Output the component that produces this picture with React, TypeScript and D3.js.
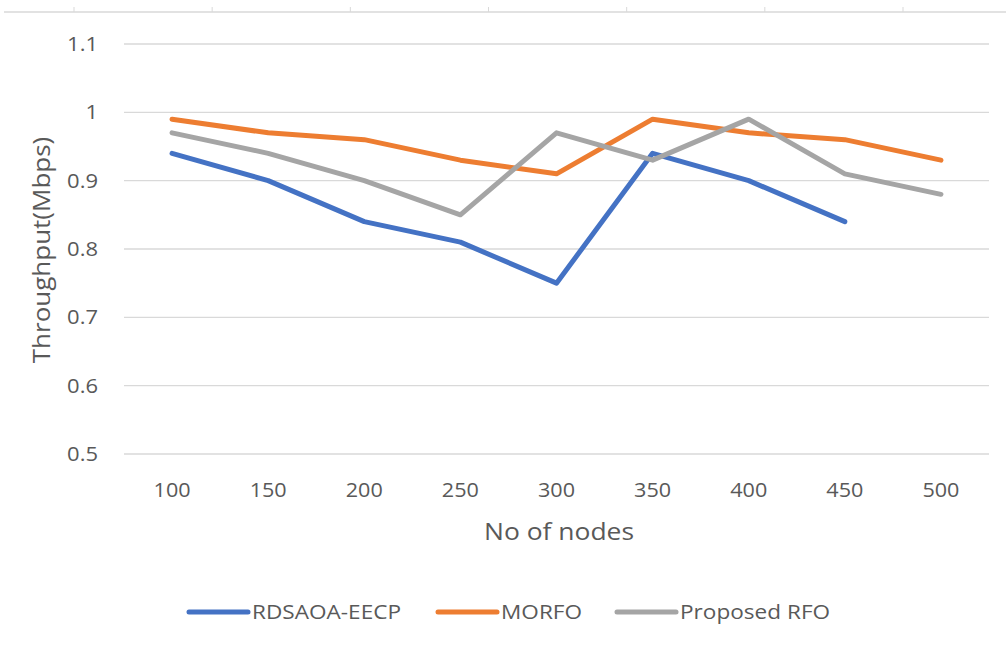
import React from "react";
import * as d3 from "d3";

const categories = ["100", "150", "200", "250", "300", "350", "400", "450", "500"];
const rdsaoa = [0.94, 0.9, 0.84, 0.81, 0.75, 0.94, 0.9, 0.84, null];
const morfo = [0.99, 0.97, 0.96, 0.93, 0.91, 0.99, 0.97, 0.96, 0.93];
const proposed = [0.97, 0.94, 0.9, 0.85, 0.97, 0.93, 0.99, 0.91, 0.88];
const yTicks = [0.5, 0.6, 0.7, 0.8, 0.9, 1.0, 1.1];
const seriesNames = ["RDSAOA-EECP", "MORFO", "Proposed RFO"];
const topTicks = [0, 1, 2, 3, 4, 5, 6];

const W = 1006;
const H = 648;
const FONT = "'Open Sans', 'Noto Sans', sans-serif";
const colors = ["#4472C4", "#ED7D31", "#A5A5A5"];
const TXT = "#595959";

function SText(props: {
  x: number;
  y: number;
  sx: number;
  size: number;
  anchor?: string;
  dy?: string;
  rotate?: number;
  children: React.ReactNode;
}) {
  const { x, y, sx, size, anchor, dy, rotate, children } = props;
  return (
    <g transform={`translate(${x},${y}) rotate(${rotate || 0}) scale(${sx},1)`}>
      <text x={0} y={0} dy={dy} textAnchor={anchor || "start"} fontSize={size} fill={TXT}>
        {children}
      </text>
    </g>
  );
}

export default function App() {
  const x = d3.scaleBand<string>().domain(categories).range([124, 989]);
  const y = d3.scaleLinear().domain([0.5, 1.1]).range([454, 44]);
  const cx = (c: string) => (x(c) as number) + x.bandwidth() / 2;
  const line = d3
    .line<number | null>()
    .defined((d) => d !== null)
    .x((_, i) => cx(categories[i]))
    .y((d) => y(d as number));
  const series = [rdsaoa, morfo, proposed];
  const topX = d3.scaleLinear().domain([0, 6]).range([74, 903]);
  const legendX = [189, 438, 617];

  return (
    <svg
      width={W}
      height={H}
      style={{ position: "absolute", left: 0, top: 0, display: "block", background: "#fff" }}
      fontFamily={FONT}
    >
      <rect x={0} y={0} width={W} height={H} fill="#fff" />
      <line x1={4} x2={W} y1={12} y2={12} stroke="#d9d9d9" strokeWidth={1.5} />
      {topTicks.map((t) => (
        <line key={t} x1={topX(t)} x2={topX(t)} y1={7} y2={12} stroke="#d9d9d9" strokeWidth={1} />
      ))}
      {yTicks.map((t) => (
        <g key={t}>
          <line x1={124} x2={989} y1={y(t)} y2={y(t)} stroke="#d9d9d9" strokeWidth={1.3} />
          <SText x={98} y={y(t)} sx={1.1} size={20} anchor="end" dy="0.35em">
            {d3.format("~g")(t)}
          </SText>
        </g>
      ))}
      {categories.map((c) => (
        <SText key={c} x={cx(c)} y={497} sx={1.08} size={20} anchor="middle">
          {c}
        </SText>
      ))}
      <SText x={559} y={540} sx={1.15} size={23} anchor="middle">
        No of nodes
      </SText>
      <SText x={50} y={250} sx={1.13} size={23} anchor="middle" rotate={-90}>
        Throughput(Mbps)
      </SText>
      {series.map((s, i) => (
        <path
          key={i}
          d={line(s) as string}
          fill="none"
          stroke={colors[i]}
          strokeWidth={5}
          strokeLinejoin="round"
          strokeLinecap="round"
        />
      ))}
      {seriesNames.map((n, i) => (
        <g key={n}>
          <line
            x1={legendX[i]}
            x2={legendX[i] + 59}
            y1={612}
            y2={612}
            stroke={colors[i]}
            strokeWidth={5}
            strokeLinecap="round"
          />
          <SText x={legendX[i] + 63} y={612} sx={1.13} size={20} dy="0.35em">
            {n}
          </SText>
        </g>
      ))}
    </svg>
  );
}
